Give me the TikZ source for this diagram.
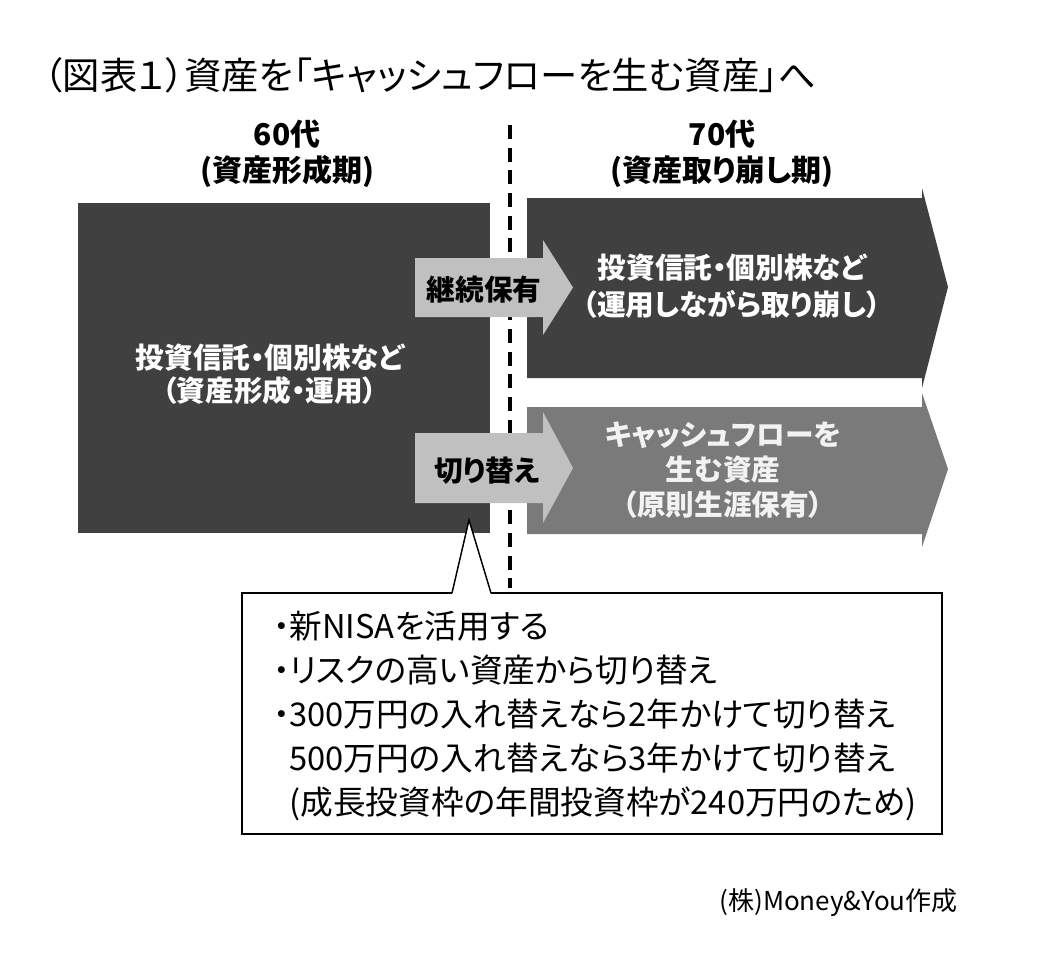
\documentclass[tikz,border=0pt]{standalone}
\usepackage{fontspec}
\setmainfont{Noto Sans CJK JP}[RawFeature=+palt]
\usetikzlibrary{positioning}
\definecolor{darkBox}{RGB}{64,64,64}
\definecolor{midBox}{RGB}{122,122,122}
\definecolor{lightArrow}{RGB}{192,192,192}
\definecolor{paleText}{RGB}{242,242,242}

\begin{document}
\begin{tikzpicture}[
    x=0.75pt, y=-0.75pt,
    every node/.style={inner sep=0pt, align=center},
    title/.style={font=\fontsize{28}{32}\selectfont},
    era/.style={font=\bfseries\fontsize{22.5}{27}\selectfont},
    boxtext/.style={text=white, font=\bfseries\fontsize{21.5}{25}\selectfont},
    shifttext/.style={font=\bfseries\fontsize{21.5}{26}\selectfont},
    note/.style={
        draw, fill=white, line width=1.1pt,
        minimum width=525pt,
        minimum height=180.75pt
    },
    notetext/.style={align=left, font=\fontsize{24.5}{33}\selectfont}
]
  \useasboundingbox[fill=white] (0,0) rectangle (1040,958);

  % heading and era labels
  \node[title] (T) at (430,75) {（図表１）資産を「キャッシュフローを生む資産」へ};
  \node[era] (S) at (287,154) {60代\\(資産形成期)};
  \node[era] (W) at (722,154) {70代\\(資産取り崩し期)};

  % border between the two periods
  \coordinate (Dtop) at (510,125);
  \coordinate (Dbot) at (510,588);
  \draw[line width=3.5pt, dash pattern=on 10.5pt off 6.5pt] (Dtop) -- (Dbot);

  % 60s block
  \node[fill=darkBox, minimum width=309pt, minimum height=247.5pt] (A) at (284,368) {};
  \node[boxtext] (At) at (270,374.5) {投資信託・個別株など\\（資産形成・運用）};

  % 70s blocks
  \fill[darkBox] (527,198) -- (922,198) -- (922,188) -- (948,287)
      -- (922,388) -- (922,378) -- (527,378) -- cycle;
  \node[boxtext, font=\bfseries\fontsize{21.5}{27.5}\selectfont] (B) at (732,286.5)
      {投資信託・個別株など\\（運用しながら取り崩し）};
  \fill[midBox] (527,407) -- (922,407) -- (922,393) -- (948,469)
      -- (922,547) -- (922,534) -- (527,534) -- cycle;
  \node[boxtext, text=paleText, font=\bfseries\fontsize{21.5}{26.3}\selectfont] (C) at (723,470)
      {キャッシュフローを\\生む資産\\（原則生涯保有）};

  % small arrows
  \fill[lightArrow] (415,258) -- (543,258) -- (543,240) -- (573,287.5)
      -- (543,335) -- (543,317) -- (415,317) -- cycle;
  \node[shifttext] (K) at (484,290) {継続保有};
  \fill[lightArrow] (415,433) -- (543,433) -- (543,412) -- (573,468)
      -- (543,523) -- (543,503) -- (415,503) -- cycle;
  \node[shifttext] (R) at (487,471) {切り替え};

  % callout
  \node[note] (N) at (592,713.5) {};
  \node[notetext, anchor=west] (Nt) at (273,716) {・新NISAを活用する\\
      ・リスクの高い資産から切り替え\\
      ・300万円の入れ替えなら2年かけて切り替え\\
      \phantom{・}500万円の入れ替えなら3年かけて切り替え\\
      \phantom{・}(成長投資枠の年間投資枠が240万円のため)};
  \coordinate (P) at (469,520);
  \fill[white] (452,594.5) -- (P) -- (491,594.5) -- cycle;
  \draw[line width=1.1pt] (452,593) -- (P) -- (491,593);

  \node[anchor=east, font=\fontsize{19.5}{22}\selectfont] (M) at (958,903) {(株)Money\&You作成};
\end{tikzpicture}
\end{document}
